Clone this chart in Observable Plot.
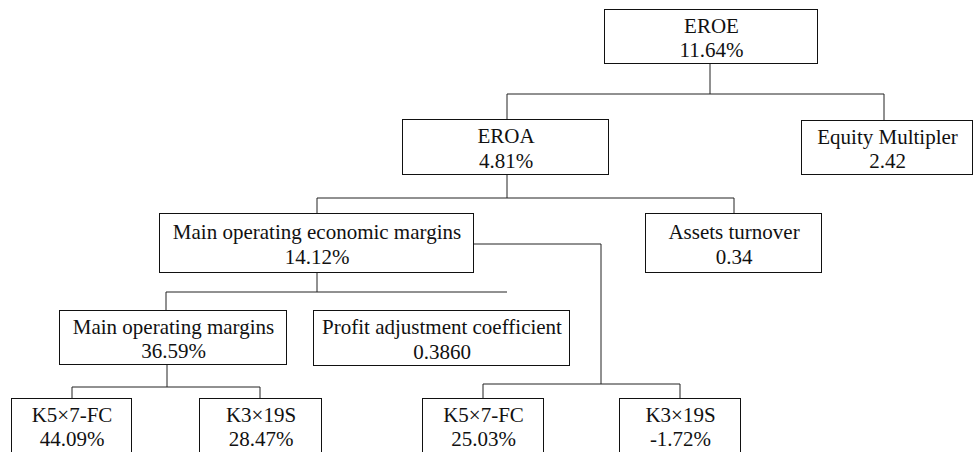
<!DOCTYPE html>
<html><head><meta charset="utf-8">
<script src="https://cdn.jsdelivr.net/npm/d3@7"></script>
<script src="https://cdn.jsdelivr.net/npm/@observablehq/plot@0.6"></script>
<style>body{margin:0;background:#fff} svg{display:block} svg text{font-family:"Liberation Serif","Times New Roman",serif !important;}</style>
</head><body><div id="chart"></div>
<script>
// ---- data ----
const names = ["EROE", "Equity Multipler", "EROA", "Assets turnover",
  "Main operating economic margins", "Main operating margins", "Profit adjustment coefficient",
  "K5×7-FC", "K3×19S", "K5×7-FC", "K3×19S"];
const values = ["11.64%", "2.42", "4.81%", "0.34", "14.12%", "36.59%", "0.3860",
  "44.09%", "28.47%", "25.03%", "-1.72%"];
const parents = [null, 0, 0, 2, 2, 4, 4, 5, 5, 4, 4];

// ---- layout (diagram geometry, in page pixels) ----
const layoutX1 = [604, 801, 402, 645, 159, 59, 313, 11, 199, 422, 619];
const layoutX2 = [817, 972, 608, 821, 473, 286, 569, 131, 321, 543, 740];
const layoutY1 = [9, 120, 119, 213, 213, 310, 310, 398, 398, 398, 398];
const layoutY2 = [63, 174, 174, 272, 272, 364, 365, 458, 458, 458, 458];
// connector groups: stem path from parent, a horizontal bus, and drop x per child
const connectors = [
  {stem: [[709, 63], [709, 93]], busY: 93, busX: [506, 883], drops: [[506, 2], [883, 1]]},
  {stem: [[506, 174], [506, 197]], busY: 197, busX: [316, 733], drops: [[316, 4], [733, 3]]},
  {stem: [[316, 272], [316, 291]], busY: 291, busX: [165, 506], drops: [[165, 5]]},
  {stem: [[473, 243], [600, 243], [600, 383]], busY: 383, busX: [482, 679], drops: [[482, 9], [679, 10]]},
  {stem: [[166, 364], [166, 386]], busY: 386, busX: [71, 259], drops: [[71, 7], [259, 8]]}
];

const nodes = names.map((n, i) => ({
  name: n, value: values[i], parent: parents[i],
  x1: layoutX1[i], x2: layoutX2[i], y1: layoutY1[i], y2: layoutY2[i],
  cx: (layoutX1[i] + layoutX2[i]) / 2,
  cy: i >= 7 ? layoutY1[i] + 27 : (layoutY1[i] + layoutY2[i]) / 2
}));

const segs = [];
for (const c of connectors) {
  for (let k = 0; k < c.stem.length - 1; k++)
    segs.push({x1: c.stem[k][0], y1: c.stem[k][1], x2: c.stem[k + 1][0], y2: c.stem[k + 1][1]});
  segs.push({x1: c.busX[0], y1: c.busY, x2: c.busX[1], y2: c.busY});
  for (const [dx, child] of c.drops)
    segs.push({x1: dx, y1: c.busY, x2: dx, y2: layoutY1[child]});
}

const W = 973, H = 452;
const chart = Plot.plot({
  width: W, height: H,
  margin: 0,
  style: {fontFamily: "'Liberation Serif', 'Times New Roman', serif", background: "#fff"},
  x: {domain: [0, W], range: [0.5, W + 0.5], axis: null},
  y: {domain: [0, H], range: [0.5, H + 0.5], axis: null},
  marks: [
    Plot.link(segs, {x1: "x1", y1: "y1", x2: "x2", y2: "y2", stroke: "#222", strokeWidth: 1}),
    Plot.rect(nodes, {x1: "x1", x2: "x2", y1: "y1", y2: "y2", fill: "#fff", stroke: "#111", strokeWidth: 1}),
    Plot.text(nodes, {x: "cx", y: "cy", text: d => d.name + "\n" + d.value,
      fontFamily: "Liberation Serif", fontSize: 21, lineHeight: 1.19,
      lineAnchor: "middle", textAnchor: "middle", fill: "#111"})
  ]
});
document.getElementById("chart").appendChild(chart);
</script>
</body></html>
